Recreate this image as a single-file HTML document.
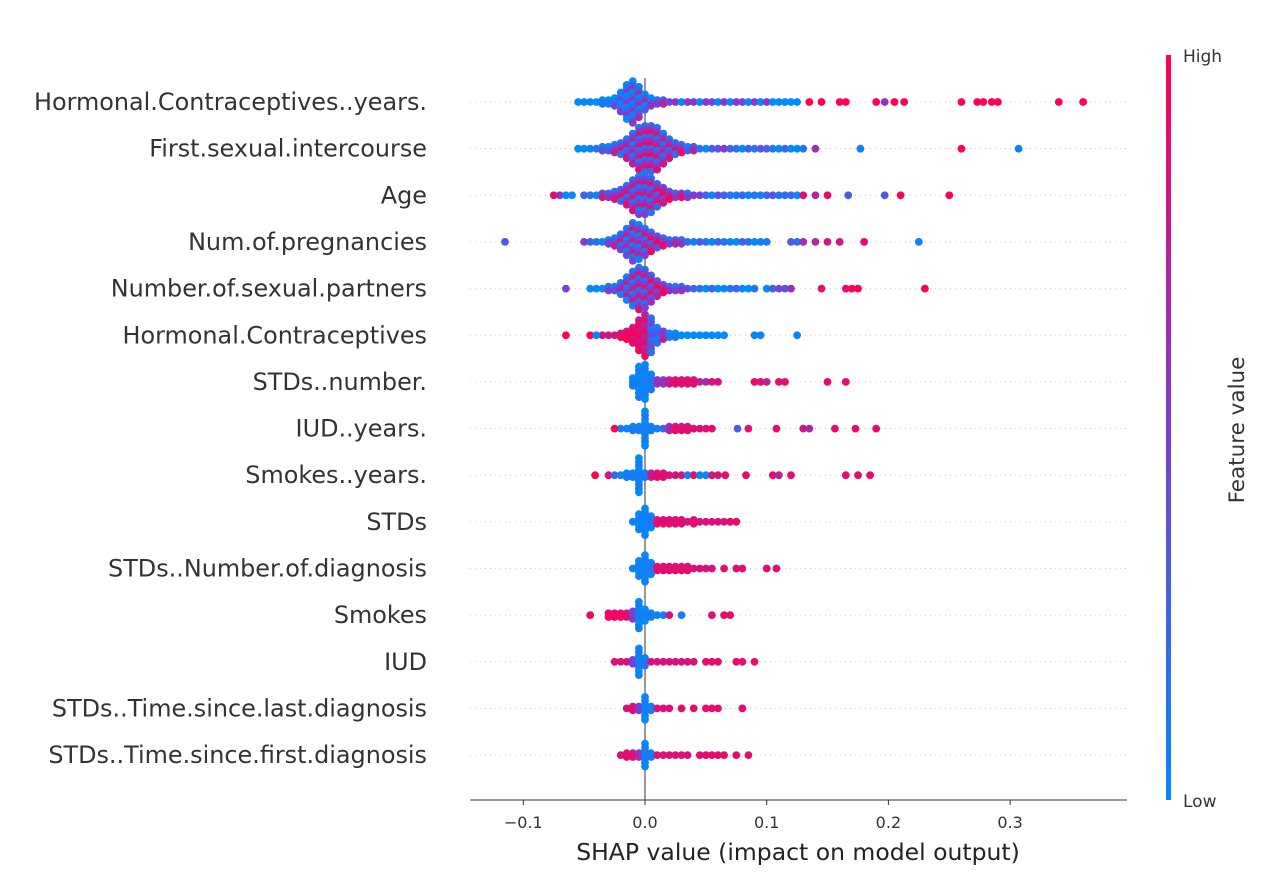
<!DOCTYPE html>
<html><head><meta charset="utf-8">
<style>
html,body{margin:0;padding:0;background:#fff;}
svg text{font-family:"DejaVu Sans","Liberation Sans",sans-serif;}
</style></head>
<body>
<svg id="chart" width="1280" height="884" viewBox="0 0 1280 884" xmlns="http://www.w3.org/2000/svg">
<defs>
<linearGradient id="cbar" x1="0" y1="1" x2="0" y2="0">
<stop offset="0" stop-color="rgb(0,138,250)"/>
<stop offset="0.5" stop-color="rgb(125,60,215)"/>
<stop offset="1" stop-color="rgb(255,0,82)"/>
</linearGradient>
</defs>
<g id="grid"></g>
<line x1="645" y1="78" x2="645" y2="800" stroke="#999" stroke-width="2"/>
<g id="dots"></g>
<g id="labels"></g>
<g id="xaxis"></g>
<text x="798" y="860" font-size="23.5" fill="#222" text-anchor="middle">SHAP value (impact on model output)</text>
<rect x="1166" y="55" width="5" height="745" fill="url(#cbar)"/>
<text x="1183" y="62" font-size="17" fill="#333">High</text>
<text x="1183" y="807" font-size="17" fill="#333">Low</text>
<text x="1244" y="430" font-size="21.5" fill="#333" text-anchor="middle" transform="rotate(-90 1244 430)">Feature value</text>
</svg>
<script>
const features = ["Hormonal.Contraceptives..years.","First.sexual.intercourse","Age","Num.of.pregnancies","Number.of.sexual.partners","Hormonal.Contraceptives","STDs..number.","IUD..years.","Smokes..years.","STDs","STDs..Number.of.diagnosis","Smokes","IUD","STDs..Time.since.last.diagnosis","STDs..Time.since.first.diagnosis"];
const binStart = [-0.055,-0.055,-0.07,-0.05,-0.045,-0.035,-0.01,-0.02,-0.03,-0.01,-0.01,-0.03,-0.025,-0.015,-0.02];
const binCounts = [
[1,1,1,1,2,2,3,6,10,12,9,5,3,2,2,1,1,1,1,1,1,1,1,1,1,1,1,1,1,1,1,1,1,1,1,1,1],
[1,1,1,1,2,2,3,4,6,9,12,13,13,12,9,6,4,3,2,2,1,1,1,1,1,1,1,1,1,1,1,1,1,1,1,1,1],
[1,1,1,0,1,1,1,2,2,3,4,6,9,11,11,10,7,5,3,2,2,2,1,1,1,1,1,1,1,1,1,1,1,1,1,1,1,1,1,1],
[1,1,1,1,2,3,5,8,11,10,8,6,4,3,2,2,2,1,1,1,1,1,1,1,1,1,1,1,1,1],
[1,1,1,2,2,4,7,10,12,11,8,5,3,2,2,2,1,1,1,1,1,1,1,1,1,1,1,1,0,1,1,1],
[1,1,1,2,3,5,9,12,10,5,3,2,2,1,1,1,1,1,1,1,1],
[3,9,10,5,2,2,2,2,2,2,2,1,1,1,1],
[1,1,2,2,10,2,1,1,2,2,2,2,1,1,1,1],
[1,1,1,2,2,10,2,2,2,2,1,1,1,1,1,1,1,1,1],
[1,5,8,4,2,2,2,2,2,1,2,1,1,1,1,1,1,1],
[1,5,8,4,2,2,2,2,2,2,1,1,1,1],
[2,2,2,2,3,8,4,2,1,1,1],
[1,1,1,2,8,3,1,1,1,1,1,1,1,1],
[1,2,2,7,2,1,1,1],
[1,2,2,2,7,2,1,1,1,1,1,1]
];
const binColors = [
[.1,.1,.1,.1,.1,.1,.1,.1,.2,.2,.3,.3,.25,.5,.7,.8,.9,.3,.9,.9,.1,.9,.8,.1,.9,.2,.9,.8,.1,.9,.2,.9,.1,.1,.2,.1,.2],
[.3,.2,.4,.5,.4,.3,.4,.5,.45,.4,.5,.55,.6,.5,.45,.5,.5,.6,.3,.7,.5,.2,.6,.7,.9,.6,.5,.3,.6,.5,.7,.6,.5,.2,.6,.1,.1],
[.9,.1,.2,.5,.6,.5,.3,.8,.6,.5,.6,.55,.5,.45,.5,.5,.6,.8,.7,.6,.9,.5,.9,.8,.6,.3,.7,.6,.5,.4,.6,.3,.5,.4,.6,.7,.5,.5,.6,.3],
[.9,.6,.5,.4,.5,.4,.45,.4,.45,.4,.5,.6,.7,.6,.5,.7,.6,.5,.4,.6,.5,.3,.6,.5,.4,.3,.6,.5,.2,.4],
[.2,.1,.4,.5,.4,.45,.4,.45,.5,.5,.6,.7,.8,.6,.5,.6,.7,.6,.5,.3,.6,.1,.2,.5,.6,.3,.1,.5,.5,.1,.6,.8],
[.95,.95,.95,.95,.95,.95,.9,.8,.3,.2,.6,.1,.1,.1,.1,.1,.1,.1,.1,.1,.1],
[.05,.05,.05,.1,.6,.6,.8,.9,.9,.9,.9,.8,.7,.9,.9],
[.1,.1,.1,.1,.05,.1,.1,.3,.7,.9,.9,.9,.9,.9,.9,1],
[.9,.3,.1,.1,.1,.05,.1,.8,.9,.9,.9,.9,.9,.1,.9,.1,.05,.9,.9],
[.1,.05,.05,.1,.9,.9,.9,.9,.9,.9,.9,.9,.9,.9,.9,.9,.9,.9],
[.1,.05,.05,.1,.9,.9,.9,.9,.9,.9,.9,.9,.9,.9],
[.95,.95,.95,.9,.5,.05,.05,.1,.1,.1,.9],
[.9,.9,.9,.5,.05,.1,.9,.9,.9,.9,.9,.9,.9,.9],
[.9,.9,.5,.05,.1,.9,.9,.9],
[.9,.9,.9,.6,.05,.1,.9,.9,.9,.9,.9,.9]
];
const colorMix = [.35,.35,.35,.35,.35,.15,.05,.05,.05,.05,.05,.05,.05,.05,.05];
const extraValues = [
[0.135,0.145,0.16,0.165,0.19,0.197,0.205,0.213,0.26,0.273,0.278,0.285,0.29,0.34,0.36],
[0.13,0.14,0.177,0.26,0.307],
[-0.075,0.13,0.14,0.15,0.167,0.197,0.21,0.25],
[-0.115,0.1,0.12,0.125,0.13,0.14,0.15,0.16,0.18,0.225],
[-0.065,0.115,0.12,0.145,0.165,0.17,0.175,0.23],
[-0.065,-0.045,-0.04,0.09,0.095,0.125],
[0.09,0.095,0.1,0.11,0.115,0.15,0.165],
[-0.025,0.076,0.085,0.108,0.13,0.135,0.156,0.173,0.19],
[-0.041,0.066,0.083,0.105,0.11,0.12,0.165,0.175,0.185],
[0.07,0.075],
[0.065,0.075,0.08,0.1,0.108],
[-0.045,0.03,0.055,0.065,0.07],
[0.05,0.055,0.06,0.075,0.08,0.09],
[0.03,0.04,0.05,0.055,0.06,0.08],
[0.045,0.05,0.055,0.06,0.065,0.075,0.085]
];
const extraColors = [
[1,1,1,1,1,.6,1,1,1,1,1,1,1,1,1],
[.1,.6,.05,1,.05],
[.9,.9,.7,.9,.3,.3,1,1],
[.3,.1,.3,.2,.6,.7,.8,.8,.9,.05],
[.5,.4,.6,.9,.9,1,1,1],
[1,1,.05,.05,.05,.05],
[.9,.9,.7,.9,.9,.9,.9],
[1,.3,.9,.9,.8,.7,.9,.9,.9],
[1,.9,.9,.9,.7,.9,.9,.9,.9],
[.9,.9],
[.9,.9,.9,.9,.9],
[.95,.1,.9,.9,.9],
[.9,.9,.9,.9,.9,.9],
[.9,.9,.9,.9,.9,.9],
[.9,.9,.9,.9,.9,.9,.9]
];
const xTickValues = [-0.1,0.0,0.1,0.2,0.3];
const xTickLabels = ["\u22120.1","0.0","0.1","0.2","0.3"];

const NS="http://www.w3.org/2000/svg";
const x0=645, pxPerUnit=1217;
function xScale(v){return x0+v*pxPerUnit;}
function yRow(i){return 102+i*46.65;}
function colorOf(t){
  t=Math.max(0,Math.min(1,t));
  const a=[0,138,250], m=[125,60,215], b=[255,0,82];
  let c;
  if(t<.5){const u=t/.5;c=a.map((v,k)=>Math.round(v+(m[k]-v)*u));}
  else{const u=(t-.5)/.5;c=m.map((v,k)=>Math.round(v+(b[k]-v)*u));}
  return "rgb("+c.join(",")+")";
}
const grid=document.getElementById('grid'), dots=document.getElementById('dots'), labels=document.getElementById('labels'), xaxis=document.getElementById('xaxis');
function dot(cx,cy,c){
  const el=document.createElementNS(NS,'circle');
  el.setAttribute('cx',cx.toFixed(1));el.setAttribute('cy',cy.toFixed(1));
  el.setAttribute('r','3.9');el.setAttribute('fill',colorOf(c));
  
  
  dots.appendChild(el);
}
features.forEach((f,i)=>{
  const y=yRow(i);
  const gl=document.createElementNS(NS,'line');
  gl.setAttribute('x1','470');gl.setAttribute('x2','1127');gl.setAttribute('y1',y);gl.setAttribute('y2',y);
  gl.setAttribute('stroke','#ccc');gl.setAttribute('stroke-width','1');gl.setAttribute('stroke-dasharray','1 4');
  
  
  grid.appendChild(gl);
  const t=document.createElementNS(NS,'text');
  t.setAttribute('x','427');t.setAttribute('y',y+8);t.setAttribute('text-anchor','end');
  t.setAttribute('font-size','23.9');t.setAttribute('fill','#333');t.textContent=f;
  
  
  labels.appendChild(t);
  binCounts[i].forEach((n,b)=>{
    const v=binStart[i]+b*0.005, cx=xScale(v);
    for(let k=0;k<n;k++){
      const off=(k-(n-1)/2)*3.8;
      const c=binColors[i][b]+((k%3)-1)*colorMix[i];
      dot(cx,y+off,c);
    }
  });
  extraValues[i].forEach((v,k)=>dot(xScale(v),y,extraColors[i][k]));
});
const ax=document.createElementNS(NS,'line');
ax.setAttribute('x1','470');ax.setAttribute('x2','1127');ax.setAttribute('y1','800');ax.setAttribute('y2','800');
ax.setAttribute('stroke','#333');ax.setAttribute('stroke-width','1');


xaxis.appendChild(ax);
xTickValues.forEach((v,k)=>{
  const x=xScale(v);
  const tk=document.createElementNS(NS,'line');
  tk.setAttribute('x1',x);tk.setAttribute('x2',x);tk.setAttribute('y1','800');tk.setAttribute('y2','805');
  tk.setAttribute('stroke','#333');
  
  
  xaxis.appendChild(tk);
  const tl=document.createElementNS(NS,'text');
  tl.setAttribute('x',x);tl.setAttribute('y','828');tl.setAttribute('text-anchor','middle');
  tl.setAttribute('font-size','16');tl.setAttribute('fill','#333');tl.textContent=xTickLabels[k];
  
  
  xaxis.appendChild(tl);
});
</script>
</body></html>
